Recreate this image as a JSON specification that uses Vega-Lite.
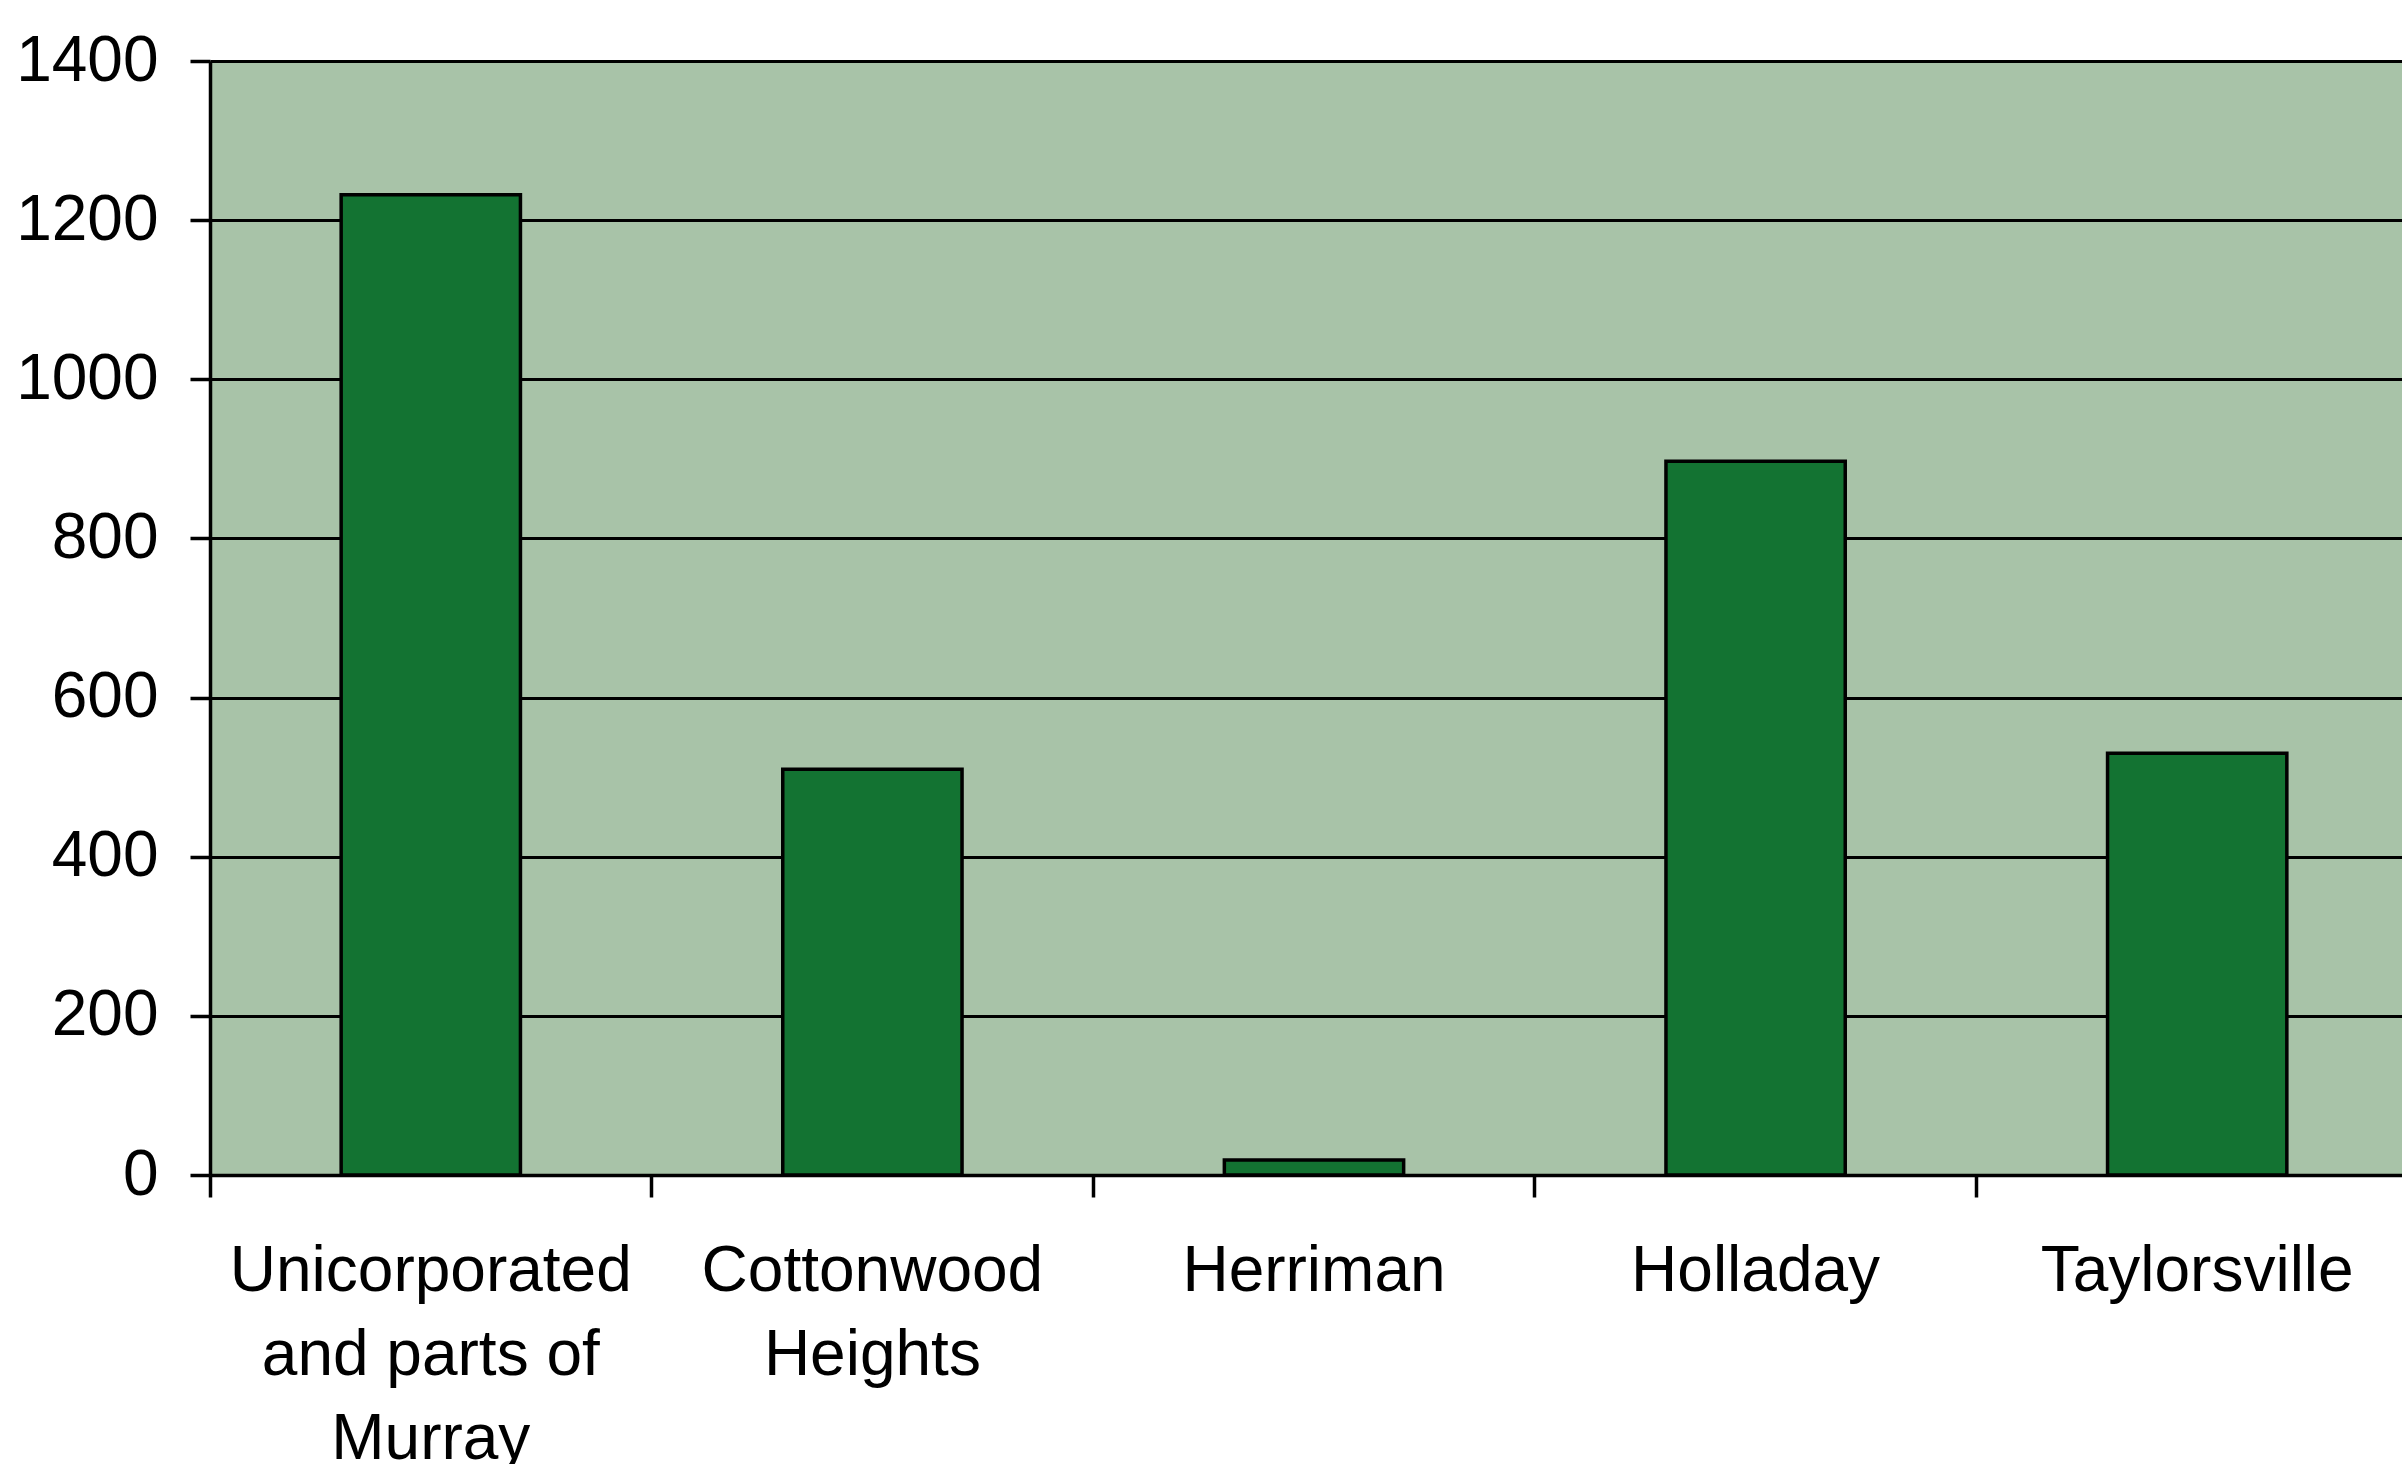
{
  "$schema": "https://vega.github.io/schema/vega-lite/v6.json",
  "width": 2192,
  "height": 1114,
  "autosize": {"type": "none"},
  "padding": {"left": 210, "top": 61, "right": 0, "bottom": 289},
  "background": "white",
  "view": {"fill": "#a8c3a8", "stroke": null},
  "config": {
    "axis": {
      "labelFont": "Liberation Sans, Arial",
      "labelFontSize": 64,
      "labelColor": "black",
      "domainColor": "black",
      "domainWidth": 3.5,
      "tickColor": "black",
      "tickWidth": 3.5
    }
  },
  "data": {
    "values": [
      {"area": "Unicorporated and parts of Murray", "count": 1232},
      {"area": "Cottonwood Heights", "count": 510},
      {"area": "Herriman", "count": 19},
      {"area": "Holladay", "count": 897},
      {"area": "Taylorsville", "count": 530}
    ]
  },
  "mark": {
    "type": "bar",
    "color": "#137332",
    "stroke": "black",
    "strokeWidth": 3.5,
    "width": {"band": 0.406}
  },
  "encoding": {
    "x": {
      "field": "area",
      "type": "nominal",
      "sort": null,
      "scale": {"range": [0, 2208], "paddingInner": 0, "paddingOuter": 0},
      "axis": {
        "title": null,
        "labelAngle": 0,
        "bandPosition": 0,
        "tickSize": 22,
        "labelPadding": 42,
        "labelBaseline": "top",
        "labelLineHeight": 84,
        "labelLimit": 0,
        "grid": false,
        "labelExpr": "datum.label == 'Unicorporated and parts of Murray' ? ['Unicorporated', 'and parts of', 'Murray'] : datum.label == 'Cottonwood Heights' ? ['Cottonwood', 'Heights'] : datum.label"
      }
    },
    "y": {
      "field": "count",
      "type": "quantitative",
      "scale": {"domain": [0, 1400], "nice": false},
      "axis": {
        "title": null,
        "values": [0, 200, 400, 600, 800, 1000, 1200, 1400],
        "format": "d",
        "grid": true,
        "gridColor": "black",
        "gridWidth": 3,
        "gridOpacity": 1,
        "tickSize": 20,
        "labelPadding": 32
      }
    }
  }
}
